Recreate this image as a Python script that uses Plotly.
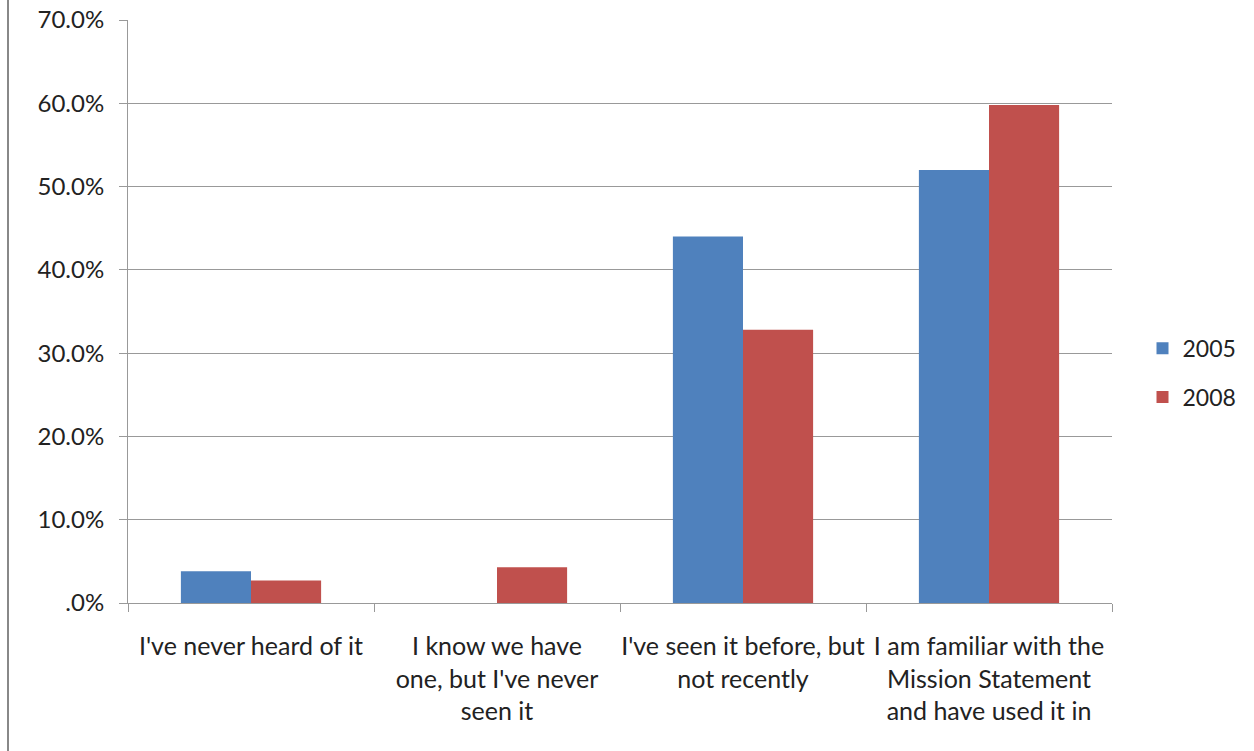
import plotly.graph_objects as go

categories = [
    "I've never heard of it",
    "I know we have<br>one, but I've never<br>seen it",
    "I've seen it before, but<br>not recently",
    "I am familiar with the<br>Mission Statement<br>and have used it in",
]
values_2005 = [3.8, 0.0, 44.0, 52.0]
values_2008 = [2.7, 4.3, 32.8, 59.8]
y_tickvals = [0, 10, 20, 30, 40, 50, 60, 70]
y_ticktext = [".0%", "10.0%", "20.0%", "30.0%", "40.0%", "50.0%", "60.0%", "70.0%"]

FONT = "Lato, 'Open Sans', sans-serif"

fig = go.Figure()
fig.add_trace(go.Bar(name="2005", x=categories, y=values_2005, legendgroup="a",
                     marker=dict(color="#4F81BD", line=dict(width=0))))
fig.add_trace(go.Bar(name="2008", x=categories, y=values_2008, legendgroup="b",
                     marker=dict(color="#C0504D", line=dict(width=0))))

fig.update_layout(
    width=1254, height=751,
    margin=dict(l=128, r=142, t=20, b=148, pad=0, autoexpand=False),
    paper_bgcolor="white", plot_bgcolor="white",
    barmode="group", bargap=0.43, bargroupgap=0,
    font=dict(family=FONT, size=25, color="#222222"),
    legend=dict(x=1.031, y=0.395, xanchor="left", yanchor="middle",
                font=dict(size=23, color="#222222"), tracegroupgap=16,
                traceorder="grouped", itemsizing="constant"),
    showlegend=True,
)
fig.update_xaxes(
    type="category", showline=True, linecolor="#999999", linewidth=1,
    ticks="outside", tickson="boundaries", ticklen=8, tickcolor="#999999",
    showgrid=False, tickfont=dict(size=25, color="#222222"),
    ticklabelstandoff=21, tickangle=0, automargin=False,
)
fig.update_yaxes(
    range=[0, 70], tickvals=y_tickvals, ticktext=y_ticktext,
    showline=True, linecolor="#999999", linewidth=1,
    ticks="outside", ticklen=8, tickcolor="#999999",
    showgrid=True, gridcolor="#999999", gridwidth=1, zeroline=False,
    tickfont=dict(size=24, color="#222222"),
    ticklabelstandoff=10, automargin=False,
)
fig.add_shape(type="line", xref="paper", yref="paper",
              x0=(8 - 128) / 984, x1=(8 - 128) / 984, y0=-148 / 583, y1=(583 + 20) / 583,
              line=dict(color="#888888", width=2))

fig.write_html("out.html")
